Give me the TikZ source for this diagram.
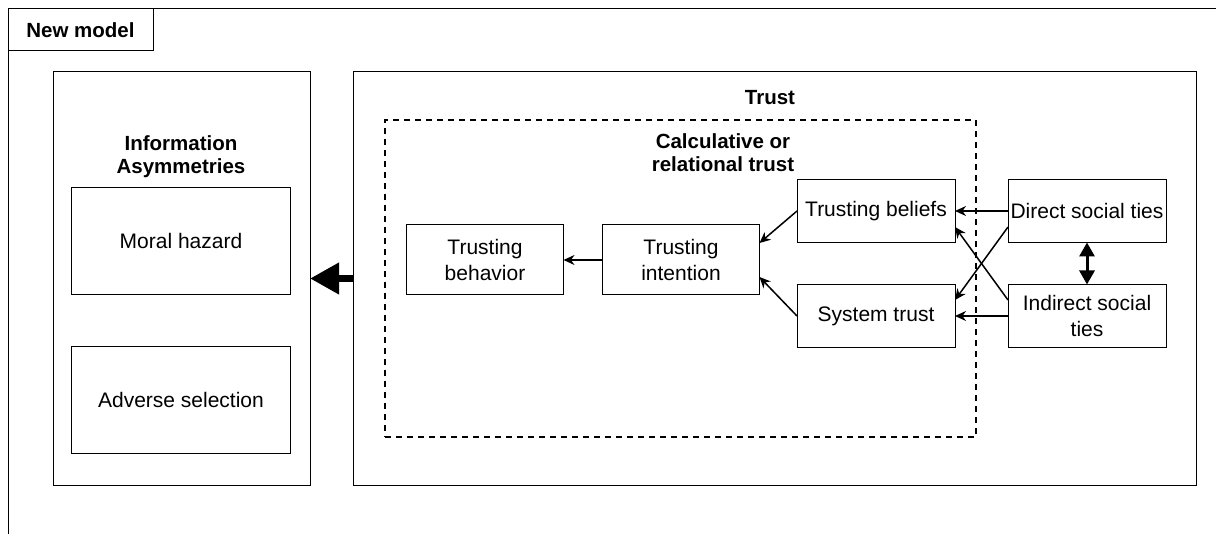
\documentclass[tikz,border=0pt]{standalone}
\usepackage{fontspec}
\setmainfont{Liberation Sans}
\usetikzlibrary{arrows.meta}
\usetikzlibrary{positioning}

\begin{document}
\begin{tikzpicture}[
    x=1pt, y=-1pt,
    node distance=39pt and 42pt,
    box/.style={rectangle, draw, line width=1pt, inner sep=2pt, outer sep=0pt, align=center},
    smallbox/.style={box, minimum width=158pt, minimum height=63pt},
    midbox/.style={box, minimum width=157pt, minimum height=70pt},
    bigbox/.style={box, minimum width=219pt, minimum height=107pt},
    title/.style={font=\bfseries\fontsize{20.5}{23}\selectfont, align=center},
    arrow/.style={-{Stealth[length=11pt, width=10pt]}, line width=1.5pt},
    bigarrow/.style={-{Triangle[length=29pt, width=30pt]}, line width=7pt},
    twoway/.style={{Triangle[length=14pt, width=15pt]}-{Triangle[length=14pt, width=15pt]}, line width=3pt},
    every node/.style={font=\fontsize{21}{26}\selectfont}
    ]

    \useasboundingbox (0,0) rectangle (1216,534);

    % Frame
    \draw[line width=1pt] (1216,9) -- (8,9) -- (8,534);
    \node[box, title, minimum width=145pt, minimum height=42pt, anchor=north west] (tab) at (8,9) {New model};

    % Containers
    \node[box, minimum width=257pt, minimum height=413pt, anchor=north west] (info) at (53,72) {};
    \node[title] (infotitle) at (181,157) {Information\\Asymmetries};
    \node[box, minimum width=843pt, minimum height=413pt, anchor=north west] (trust) at (353,72) {};
    \node[title] (trusttitle) at (770,98) {Trust};
    \node[box, dashed, dash pattern=on 6pt off 5pt, line width=1.5pt, minimum width=591pt, minimum height=317pt, anchor=north west] (calc) at (385,120) {};
    \node[title] (calctitle) at (723,153) {Calculative or\\relational trust};

    % Nodes
    \node[bigbox] (moral) at (181,241) {Moral hazard};
    \node[bigbox, below=52pt of moral] (adverse) {Adverse selection};

    \node[midbox] (behavior) at (485,260) {Trusting\\behavior};
    \node[midbox, right=39pt of behavior] (intention) {Trusting\\intention};
    \node[smallbox] (beliefs) at (876,211) {Trusting beliefs};
    \node[smallbox, below=42pt of beliefs] (system) {System trust};
    \node[smallbox, right=53pt of beliefs] (direct) {Direct social ties};
    \node[smallbox, right=53pt of system] (indirect) {Indirect social\\ties};

    \draw[arrow] (intention) -- (behavior);

    \draw[arrow] (beliefs.west) -- ([yshift=17pt]intention.east);

    \draw[arrow] (system.west) -- ([yshift=-17pt]intention.east);

    \draw[arrow] (direct) -- (beliefs);

    \draw[arrow] (indirect) -- (system);

    \draw[arrow] ([yshift=-16pt]direct.west) -- ([yshift=16pt]system.east);

    \draw[arrow] ([yshift=16pt]indirect.west) -- ([yshift=-16pt]beliefs.east);

    \draw[twoway] (direct) -- (indirect);

    \draw[bigarrow] (trust) -- (info);

\end{tikzpicture}
\end{document}
